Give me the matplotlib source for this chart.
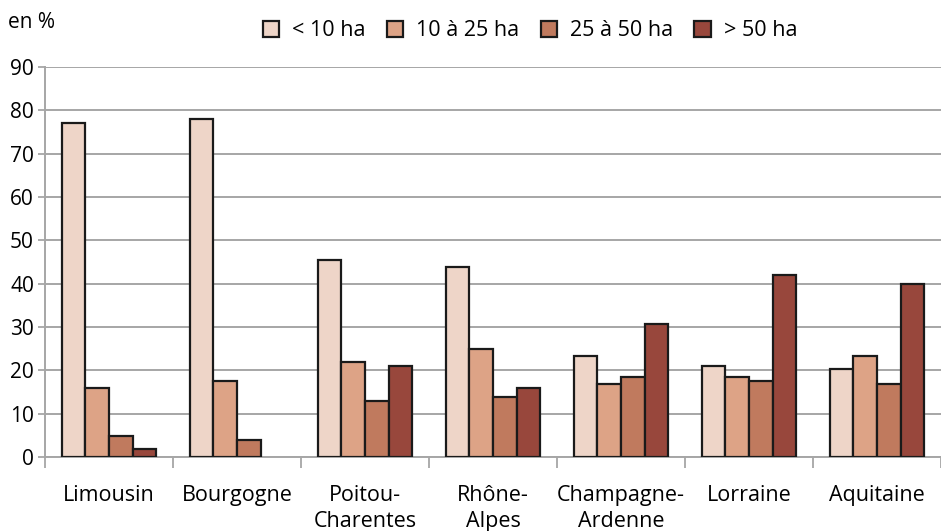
import matplotlib
matplotlib.use("Agg")
from matplotlib import pyplot as plt
import numpy as np

plt.rcParams['font.family'] = ['Open Sans', 'DejaVu Sans']

regions = ["Limousin", "Bourgogne", "Poitou-\nCharentes", "Rhône-\nAlpes",
           "Champagne-\nArdenne", "Lorraine", "Aquitaine"]
classes = ["< 10 ha", "10 à 25 ha", "25 à 50 ha", "> 50 ha"]

moins_10 = [77.1, 78.0, 45.5, 43.8, 23.3, 21.1, 20.2]
de_10_25 = [16.0, 17.6, 21.9, 25.0, 16.8, 18.5, 23.3]
de_25_50 = [4.8, 3.9, 12.9, 13.8, 18.5, 17.6, 16.8]
plus_50 = [1.8, 0.0, 21.1, 16.0, 30.8, 42.0, 39.9]

couleurs = ["#EED5C8", "#DDA386", "#C07A5E", "#98473C"]

fig = plt.figure(figsize=(9.41, 5.31), dpi=100)
ax = fig.add_axes([45/941, 74/531, 1 - 45/941, 390/531])

x = np.arange(len(regions))
w = 0.185
series = [moins_10, de_10_25, de_25_50, plus_50]
for i, (vals, c, lab) in enumerate(zip(series, couleurs, classes)):
    # pas de barre quand la valeur est nulle
    hauteurs = [v if v > 0 else np.nan for v in vals]
    ax.bar(x + (i - 1.5) * w, hauteurs, w, color=c, edgecolor="#1a1a1a",
           linewidth=1.6, label=lab, zorder=3)

ax.set_ylim(0, 90)
ax.set_xlim(-0.5, 6.47)
ax.set_yticks(range(0, 91, 10))
ax.grid(axis="y", color="#A6A6A6", linewidth=1.4, zorder=0)

for s in ["top", "right"]:
    ax.spines[s].set_visible(False)
for s in ["left", "bottom"]:
    ax.spines[s].set_color("#A6A6A6")
    ax.spines[s].set_linewidth(1.4)

ax.tick_params(axis="y", colors="#A6A6A6", labelcolor="black", length=5,
               width=1.3, labelsize=15, pad=3)
# graduations entre les catégories, étiquettes au centre
ax.set_xticks(np.arange(len(regions) + 1) - 0.5, minor=False)
ax.set_xticklabels([])
ax.tick_params(axis="x", which="major", colors="#A6A6A6", length=8, width=1.3)
ax.set_xticks(x, minor=True)
ax.set_xticklabels(regions, minor=True, fontsize=15.5, linespacing=1.3)
ax.tick_params(axis="x", which="minor", length=0, pad=20, labelcolor="black")

fig.text(8/941, 1 - 22/531, "en %", fontsize=15, va="center")

fig.legend(loc="center", bbox_to_anchor=(530/941, 1 - 31/531), ncol=4,
           frameon=False, fontsize=15.5, handlelength=0.75, handleheight=0.75,
           handletextpad=0.6, columnspacing=1.0)

fig.savefig("out.png", dpi=100)
